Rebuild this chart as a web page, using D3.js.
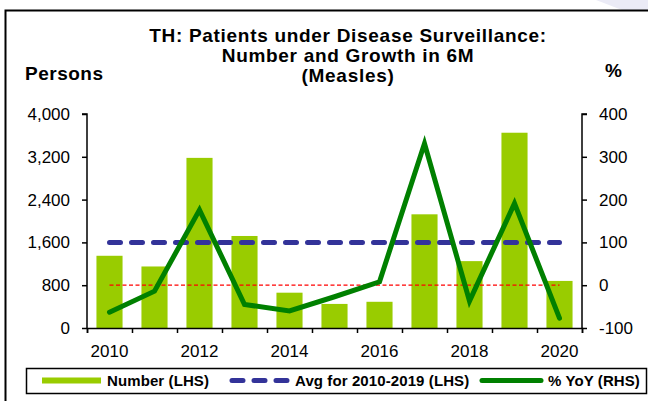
<!DOCTYPE html>
<html>
<head>
<meta charset="utf-8">
<script src="https://cdn.jsdelivr.net/npm/d3@7"></script>
<style>
  html, body { margin: 0; padding: 0; background: #fff; }
  svg { display: block; font-family: "Liberation Sans", Arial, sans-serif; }
</style>
</head>
<body>
<svg id="chart" width="648" height="401"></svg>
<script>
// data ---------------------------------------------------
const years = ['2010', '2011', '2012', '2013', '2014', '2015', '2016', '2017', '2018', '2019', '2020']
const numbers = [1350, 1150, 3180, 1720, 660, 450, 490, 2125, 1250, 3650, 880]
const yoy = [-63, -14, 176, -45, -60, -27, 8, 331, -37, 191, -77]
const avgLevel = 1600
const leftTicks = [0, 800, 1600, 2400, 3200, 4000]
const rightTicks = [-100, 0, 100, 200, 300, 400]
const yearLabels = ['2010', '2012', '2014', '2016', '2018', '2020']
const titleLines = ['TH: Patients under Disease Surveillance:', 'Number and Growth in 6M', '(Measles)']

const barColor = '#99cc00'
const avgColor = '#333399'
const yoyColor = '#008000'

function draw() {
  const svg = d3.select('#chart')
  const left = 87
  const right = 582
  const top = 114
  const bottom = 328

  // top-right decoration and outer frame
  svg.append('path')
    .attr('d', 'M596,0 L648,0 L648,10 L622,10 Z')
    .attr('fill', '#ebebf6')
  svg.append('rect')
    .attr('x', 5.5).attr('y', 10.5)
    .attr('width', 700).attr('height', 500)
    .attr('fill', 'none').attr('stroke', '#000').attr('stroke-width', 2)

  const x = d3.scaleBand().domain(years).range([left, right]).paddingInner(0.42).paddingOuter(0.21)
  const yL = d3.scaleLinear().domain([0, 4000]).range([bottom, top])
  const yR = d3.scaleLinear().domain([-100, 400]).range([bottom, top])
  const cx = (d) => x(d) + x.bandwidth() / 2

  // title
  svg.append('text')
    .attr('text-anchor', 'middle')
    .style('font-weight', 'bold').style('font-size', '19px').style('letter-spacing', '0.7px')
    .selectAll('tspan')
    .data(titleLines)
    .join('tspan')
    .attr('x', 348)
    .attr('y', (d, i) => 42 + i * 20)
    .text((d) => d)

  svg.append('text').attr('x', 25).attr('y', 80)
    .style('font-weight', 'bold').style('font-size', '19px').style('letter-spacing', '0.5px').text('Persons')
  svg.append('text').attr('x', 605).attr('y', 77)
    .style('font-weight', 'bold').style('font-size', '19px').text('%')

  // bars
  svg.append('g')
    .selectAll('rect')
    .data(years)
    .join('rect')
    .attr('x', (d) => x(d))
    .attr('width', x.bandwidth())
    .attr('y', (d, i) => yL(numbers[i]))
    .attr('height', (d, i) => yL(0) - yL(numbers[i]))
    .attr('fill', barColor)

  // zero line of the right axis
  svg.append('line')
    .attr('x1', cx(years[0])).attr('x2', cx(years[years.length - 1]))
    .attr('y1', yR(0)).attr('y2', yR(0))
    .attr('stroke', '#ff0000').attr('stroke-width', 1.3).attr('stroke-dasharray', '4,2.5')

  // average line
  svg.append('line')
    .attr('x1', cx(years[0])).attr('x2', cx(years[years.length - 1]))
    .attr('y1', yL(avgLevel)).attr('y2', yL(avgLevel))
    .attr('stroke', avgColor).attr('stroke-width', 5)
    .attr('stroke-linecap', 'round').attr('stroke-dasharray', '11,11')

  // yoy line
  const line = d3.line().x((d, i) => cx(years[i])).y((d) => yR(d))
  svg.append('path')
    .datum(yoy)
    .attr('d', line)
    .attr('fill', 'none')
    .attr('stroke', yoyColor)
    .attr('stroke-width', 5)
    .attr('stroke-linejoin', 'miter')
    .attr('stroke-linecap', 'round')

  // axes
  const axisL = svg.append('g').attr('transform', `translate(${left},0)`)
    .call(d3.axisLeft(yL).tickValues(leftTicks).tickSize(5).tickPadding(12).tickFormat(d3.format(',')))
  const axisR = svg.append('g').attr('transform', `translate(${right},0)`)
    .call(d3.axisRight(yR).tickValues(rightTicks).tickSize(5).tickPadding(12).tickFormat((d) => String(d)))
  const axisX = svg.append('g').attr('transform', `translate(0,${bottom})`)
    .call(d3.axisBottom(d3.scaleLinear().domain([0, years.length]).range([left, right]))
      .tickValues(d3.range(years.length + 1)).tickSize(5).tickFormat(''))

  for (const g of [axisL, axisR, axisX]) {
    g.select('.domain').attr('stroke', '#000').attr('stroke-width', 1.5)
    g.selectAll('.tick line').attr('stroke', '#000').attr('stroke-width', 1.5)
    g.selectAll('text').style('font-size', '17px').attr('fill', '#000').style('font-family', 'Liberation Sans, Arial, sans-serif')
  }
  axisL.select('.domain').attr('d', `M-5,${top}H0V${bottom}`)
  axisR.select('.domain').attr('d', `M5,${top}H0V${bottom}`)

  svg.append('g')
    .selectAll('text')
    .data(yearLabels)
    .join('text')
    .attr('x', (d) => cx(d))
    .attr('y', 357)
    .attr('text-anchor', 'middle')
    .style('font-size', '17px')
    .text((d) => d)

  // legend
  const lg = svg.append('g')
  lg.append('rect').attr('x', 26.5).attr('y', 368.5).attr('width', 620).attr('height', 25)
    .attr('fill', '#fff').attr('stroke', '#000').attr('stroke-width', 1.5)
  lg.append('rect').attr('x', 42).attr('y', 377.5).attr('width', 59).attr('height', 6).attr('fill', barColor)
  lg.append('line').attr('x1', 232).attr('x2', 288).attr('y1', 380.5).attr('y2', 380.5)
    .attr('stroke', avgColor).attr('stroke-width', 5).attr('stroke-linecap', 'round').attr('stroke-dasharray', '11,11')
  lg.append('line').attr('x1', 482).attr('x2', 541).attr('y1', 380.5).attr('y2', 380.5)
    .attr('stroke', yoyColor).attr('stroke-width', 5).attr('stroke-linecap', 'round')
  const legendTexts = [['Number (LHS)', 107], ['Avg for 2010-2019 (LHS)', 295], ['% YoY (RHS)', 548]]
  lg.selectAll('text.lbl')
    .data(legendTexts)
    .join('text')
    .attr('x', (d) => d[1])
    .attr('y', 386)
    .style('font-weight', 'bold').style('font-size', '15px').style('letter-spacing', '0.1px')
    .text((d) => d[0])
}

draw()
</script>
</body>
</html>
